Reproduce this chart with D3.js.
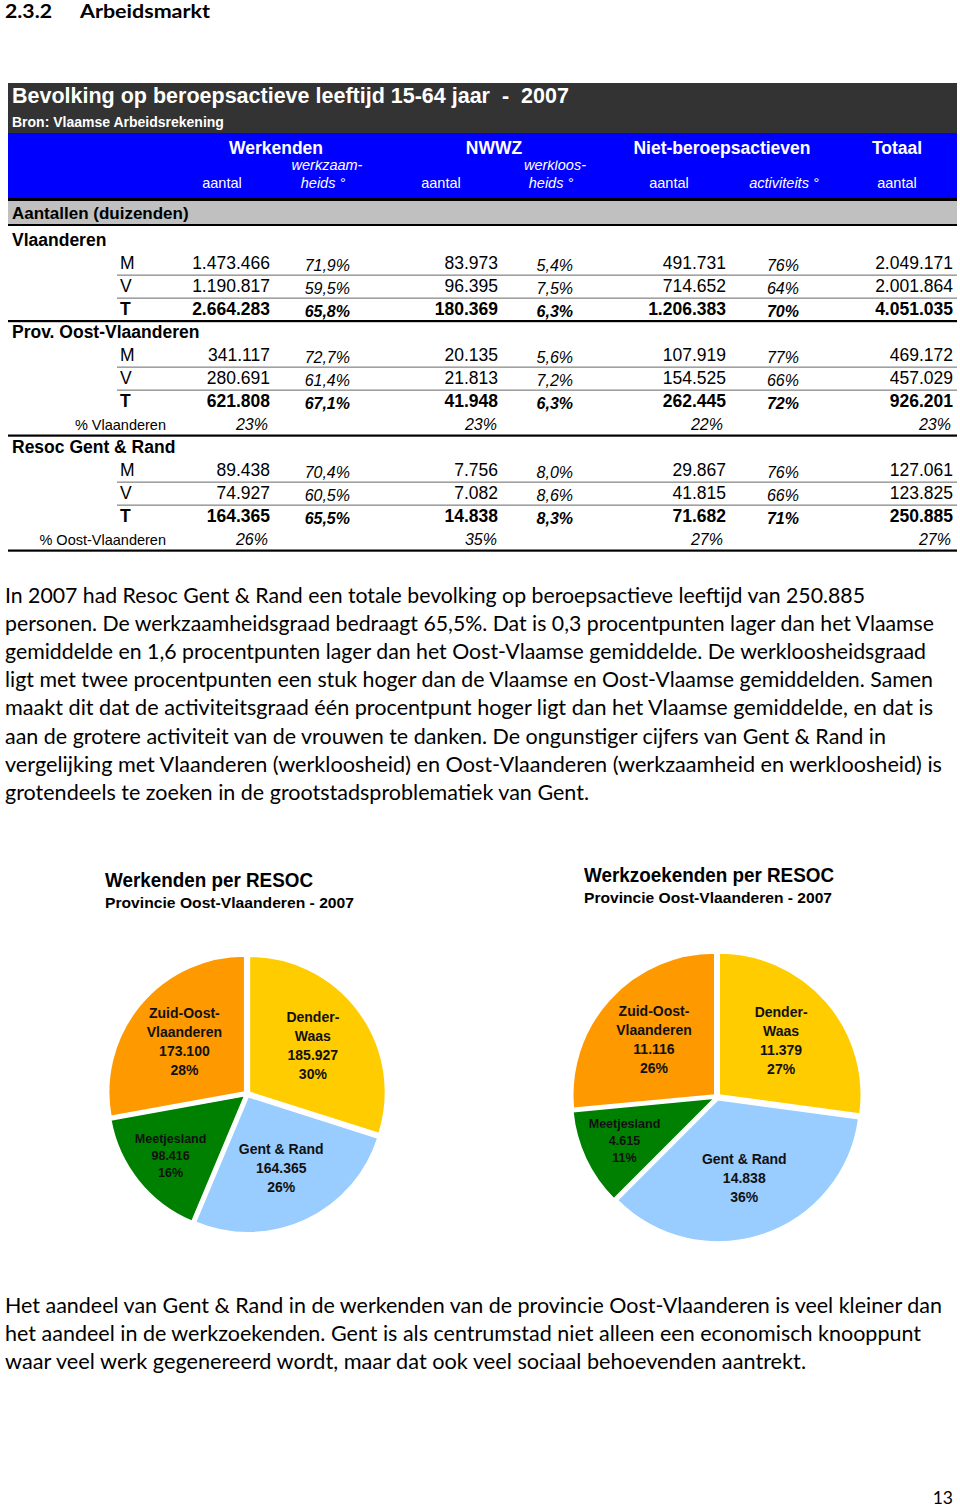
<!DOCTYPE html>
<html><head><meta charset="utf-8">
<script src="https://cdn.jsdelivr.net/npm/d3@7"></script>
<style>body{margin:0;background:#fff}svg{display:block}</style>
</head><body>
<script>
// ---------- DATA ----------
const regions = ["Vlaanderen", "Prov. Oost-Vlaanderen", "Resoc Gent & Rand"];
const sexes = ["M", "V", "T"];
const werkendenAantal = [[1473466, 1190817, 2664283], [341117, 280691, 621808], [89438, 74927, 164365]];
const werkzaamheidsgraad = [[71.9, 59.5, 65.8], [72.7, 61.4, 67.1], [70.4, 60.5, 65.5]];
const nwwzAantal = [[83973, 96395, 180369], [20135, 21813, 41948], [7756, 7082, 14838]];
const werkloosheidsgraad = [[5.4, 7.5, 6.3], [5.6, 7.2, 6.3], [8.0, 8.6, 8.3]];
const nietActiefAantal = [[491731, 714652, 1206383], [107919, 154525, 262445], [29867, 41815, 71682]];
const activiteitsgraad = [[76, 64, 70], [77, 66, 72], [76, 66, 71]];
const totaalAantal = [[2049171, 2001864, 4051035], [469172, 457029, 926201], [127061, 123825, 250885]];
const shareLabels = [null, "% Vlaanderen", "% Oost-Vlaanderen"];
const shareValues = [null, [23, 23, 22, 23], [26, 35, 27, 27]];

const groupHeaders = ["Werkenden", "NWWZ", "Niet-beroepsactieven", "Totaal"];
const subHeaders = [["aantal"], ["werkzaam-", "heids °"], ["aantal"], ["werkloos-", "heids °"], ["aantal"], ["activiteits °"], ["aantal"]];

const resocNames = ["Dender-\nWaas", "Gent & Rand", "Meetjesland", "Zuid-Oost-\nVlaanderen"];
const werkendenPerResoc = [185927, 164365, 98416, 173100];
const werkendenPct = ["30%", "26%", "16%", "28%"];
const werkzoekendenPerResoc = [11379, 14838, 4615, 11116];
const werkzoekendenPct = ["27%", "36%", "11%", "26%"];

const para1 = [
 "In 2007 had Resoc Gent & Rand een totale bevolking op beroepsactieve leeftijd van 250.885",
 "personen. De werkzaamheidsgraad bedraagt 65,5%. Dat is 0,3 procentpunten lager dan het Vlaamse",
 "gemiddelde en 1,6 procentpunten lager dan het Oost-Vlaamse gemiddelde. De werkloosheidsgraad",
 "ligt met twee procentpunten een stuk hoger dan de Vlaamse en Oost-Vlaamse gemiddelden. Samen",
 "maakt dit dat de activiteitsgraad één procentpunt hoger ligt dan het Vlaamse gemiddelde, en dat is",
 "aan de grotere activiteit van de vrouwen te danken. De ongunstiger cijfers van Gent & Rand in",
 "vergelijking met Vlaanderen (werkloosheid) en Oost-Vlaanderen (werkzaamheid en werkloosheid) is",
 "grotendeels te zoeken in de grootstadsproblematiek van Gent."
];
const para2 = [
 "Het aandeel van Gent & Rand in de werkenden van de provincie Oost-Vlaanderen is veel kleiner dan",
 "het aandeel in de werkzoekenden. Gent is als centrumstad niet alleen een economisch knooppunt",
 "waar veel werk gegenereerd wordt, maar dat ook veel sociaal behoevenden aantrekt."
];

// ---------- SETUP ----------
const W = 960, H = 1507;
const svg = d3.select("body").append("svg").attr("width", W).attr("height", H);
const loc = d3.formatLocale({decimal: ",", thousands: ".", grouping: [3], currency: ["€", ""]});
const fInt = loc.format(",d");
const fP1 = v => loc.format(".1f")(v) + "%";
const fP0 = v => loc.format(".0f")(v) + "%";
const ARIAL = "'Liberation Sans', Arial, Helvetica, sans-serif";
const CAL = "Lato, 'Open Sans', sans-serif";

// Heading
svg.append("text").attr("x", 5).attr("y", 18).attr("font-family", CAL).attr("font-weight", 700)
  .attr("font-size", 19.5).attr("textLength", 47).attr("lengthAdjust", "spacingAndGlyphs").text("2.3.2");
svg.append("text").attr("x", 80).attr("y", 18).attr("font-family", CAL).attr("font-weight", 700)
  .attr("font-size", 19.5).attr("textLength", 130).attr("lengthAdjust", "spacingAndGlyphs").text("Arbeidsmarkt");

// ---------- TABLE ----------
const tL = 8, tR = 957;
svg.append("rect").attr("x", tL).attr("y", 83).attr("width", tR - tL).attr("height", 50).attr("fill", "#333333");
svg.append("rect").attr("x", tL).attr("y", 133).attr("width", tR - tL).attr("height", 66).attr("fill", "#0000ff");
svg.append("rect").attr("x", tL).attr("y", 198).attr("width", tR - tL).attr("height", 3).attr("fill", "#000");
svg.append("rect").attr("x", tL).attr("y", 201).attr("width", tR - tL).attr("height", 23).attr("fill", "#c0c0c0");
svg.append("rect").attr("x", tL).attr("y", 224).attr("width", tR - tL).attr("height", 2).attr("fill", "#000");

svg.append("text").attr("x", 12).attr("y", 103).attr("font-family", ARIAL).attr("font-weight", 700)
  .attr("font-size", 21.5).attr("fill", "#fff").attr("xml:space", "preserve").style("white-space", "pre")
  .text("Bevolking op beroepsactieve leeftijd 15-64 jaar  -  2007");
svg.append("text").attr("x", 12).attr("y", 127).attr("font-family", ARIAL).attr("font-weight", 700)
  .attr("font-size", 14).attr("fill", "#fff").text("Bron: Vlaamse Arbeidsrekening");

const groupCenters = [276, 494, 722, 897];
svg.selectAll("text.gh").data(groupHeaders).join("text").attr("class", "gh")
  .attr("x", (d, i) => groupCenters[i]).attr("y", 154).attr("text-anchor", "middle")
  .attr("font-family", ARIAL).attr("font-weight", 700).attr("font-size", 17.5).attr("fill", "#fff").text(d => d);

const defs = svg.append("defs");
defs.append("clipPath").attr("id", "hdrclip").append("rect").attr("x", 0).attr("y", 160.5).attr("width", W).attr("height", 40);
const subCenters = [222, 327, 441, 555, 669, 784, 897];
const subG = svg.append("g").attr("clip-path", "url(#hdrclip)");
subHeaders.forEach((lines, i) => {
  const italic = lines.length > 1 || lines[0].startsWith("activ");
  lines.forEach((ln, j) => {
    const y = lines.length > 1 ? (j === 0 ? 170 : 188) : 188;
    subG.append("text").attr("x", subCenters[i] - (lines.length > 1 && j === 1 ? 4 : 0)).attr("y", y)
      .attr("text-anchor", "middle").attr("font-family", ARIAL).attr("font-size", 14.5)
      .attr("font-style", italic ? "italic" : "normal").attr("fill", "#fff").text(ln);
  });
});

svg.append("text").attr("x", 12).attr("y", 219).attr("font-family", ARIAL).attr("font-weight", 700)
  .attr("font-size", 17).text("Aantallen (duizenden)");

const colRight = [270, 350, 498, 573, 726, 799, 953];
const shareRight = [268, 497, 723, 951];
const groupBase = [246, 338, 453];
const rowStep = 23;

regions.forEach((reg, g) => {
  const b = groupBase[g];
  svg.append("text").attr("x", 12).attr("y", b).attr("font-family", ARIAL).attr("font-weight", 700)
    .attr("font-size", 17.5).text(reg);
  sexes.forEach((s, k) => {
    const y = b + rowStep * (k + 1);
    const bold = s === "T" ? 700 : 400;
    const cells = [
      {v: fInt(werkendenAantal[g][k]), it: false},
      {v: fP1(werkzaamheidsgraad[g][k]), it: true},
      {v: fInt(nwwzAantal[g][k]), it: false},
      {v: fP1(werkloosheidsgraad[g][k]), it: true},
      {v: fInt(nietActiefAantal[g][k]), it: false},
      {v: fP0(activiteitsgraad[g][k]), it: true},
      {v: fInt(totaalAantal[g][k]), it: false}
    ];
    svg.append("text").attr("x", 120).attr("y", y).attr("font-family", ARIAL).attr("font-weight", bold)
      .attr("font-size", 17.5).text(s);
    cells.forEach((c, ci) => {
      svg.append("text").attr("x", colRight[ci]).attr("y", y + (c.it ? 1.5 : 0)).attr("text-anchor", "end")
        .attr("font-family", ARIAL).attr("font-weight", bold).attr("font-style", c.it ? "italic" : "normal")
        .attr("font-size", c.it ? 16 : 17.5).text(c.v);
    });
    if (k < 2) {
      svg.append("rect").attr("x", 117).attr("y", y + 5.5).attr("width", tR - 117).attr("height", 1.3).attr("fill", "#8a8a8a");
    }
  });
  let lastY = b + rowStep * 3;
  if (shareLabels[g]) {
    const y = b + rowStep * 4 - 0.5;
    svg.append("text").attr("x", 166).attr("y", y).attr("text-anchor", "end").attr("font-family", ARIAL)
      .attr("font-size", 14.5).text(shareLabels[g]);
    shareValues[g].forEach((v, i) => {
      svg.append("text").attr("x", shareRight[i]).attr("y", y).attr("text-anchor", "end").attr("font-family", ARIAL)
        .attr("font-style", "italic").attr("font-size", 16).text(fP0(v));
    });
    lastY = y;
  }
  svg.append("rect").attr("x", tL).attr("y", lastY + 5).attr("width", tR - tL).attr("height", 2.2).attr("fill", "#000");
});

// ---------- PARAGRAPHS ----------
const p1Ends = [865, 934, 926, 933, 933, 886, 942, 589];
para1.forEach((t, i) => {
  svg.append("text").attr("x", 5).attr("y", 603 + i * 28.1).attr("font-family", CAL).attr("font-size", 20.5)
    .attr("fill", "#000").attr("textLength", p1Ends[i] - 5).attr("lengthAdjust", "spacingAndGlyphs").text(t);
});
const p2Ends = [942, 921, 806];
para2.forEach((t, i) => {
  svg.append("text").attr("x", 5).attr("y", 1313 + i * 28.1).attr("font-family", CAL).attr("font-size", 20.5)
    .attr("fill", "#000").attr("textLength", p2Ends[i] - 5).attr("lengthAdjust", "spacingAndGlyphs").text(t);
});
svg.append("text").attr("x", 953).attr("y", 1504).attr("text-anchor", "end").attr("font-family", CAL)
  .attr("font-size", 17.5).text("13");

// ---------- PIES ----------
const NARROW = "'Liberation Sans Narrow', 'Arial Narrow', 'Liberation Sans', Arial, sans-serif";
const colors = ["#ffcc00", "#99ccff", "#008000", "#ff9900"];

function pieChart(opt) {
  const g = svg.append("g");
  g.append("text").attr("x", opt.tx).attr("y", opt.ty).attr("font-family", NARROW).attr("font-weight", 700)
    .attr("font-size", 19.5).attr("textLength", opt.tw).attr("lengthAdjust", "spacingAndGlyphs").text(opt.title);
  g.append("text").attr("x", opt.tx).attr("y", opt.ty + 20.5).attr("font-family", NARROW).attr("font-weight", 700)
    .attr("font-size", 15.5).attr("textLength", opt.sw).attr("lengthAdjust", "spacingAndGlyphs").text(opt.subtitle);

  const arcs = d3.pie().sort(null).value(d => d)(opt.values);
  const arc = d3.arc().innerRadius(0).outerRadius(opt.r);
  const pg = g.append("g").attr("transform", `translate(${opt.cx},${opt.cy})`);
  const explode = 3;
  pg.selectAll("path").data(arcs).join("path")
    .attr("d", arc)
    .attr("fill", (d, i) => colors[i])
    .attr("stroke", "#fff").attr("stroke-width", 1.5)
    .attr("transform", d => {
      const a = (d.startAngle + d.endAngle) / 2;
      return `translate(${Math.sin(a) * explode},${-Math.cos(a) * explode})`;
    });
  arcs.forEach((d, i) => {
    const a = (d.startAngle + d.endAngle) / 2;
    const frac = (d.endAngle - d.startAngle) / (2 * Math.PI);
    const small = frac < 0.2;
    const lr = opt.r * (small ? 0.72 : 0.6);
    const x = Math.sin(a) * lr, y = -Math.cos(a) * lr;
    const lines = resocNames[i].split("\n").concat([fInt(opt.values[i]), opt.pcts[i]]);
    const lh = small ? 17 : 19;
    const fs = small ? 12.5 : 14;
    const y0 = y - (lines.length - 1) * lh / 2 + fs * 0.36;
    const t = pg.append("text").attr("text-anchor", "middle").attr("font-family", ARIAL)
      .attr("font-weight", 700).attr("font-size", fs).attr("fill", "#111");
    lines.forEach((ln, j) => t.append("tspan").attr("x", x).attr("y", y0 + j * lh).text(ln));
  });
}

pieChart({cx: 247, cy: 1094, r: 136, values: werkendenPerResoc, pcts: werkendenPct,
  title: "Werkenden per RESOC", subtitle: "Provincie Oost-Vlaanderen - 2007",
  tx: 105, ty: 887, tw: 208, sw: 249});
pieChart({cx: 717, cy: 1097, r: 142, values: werkzoekendenPerResoc, pcts: werkzoekendenPct,
  title: "Werkzoekenden per RESOC", subtitle: "Provincie Oost-Vlaanderen - 2007",
  tx: 584, ty: 882, tw: 250, sw: 248});
</script>
</body></html>
